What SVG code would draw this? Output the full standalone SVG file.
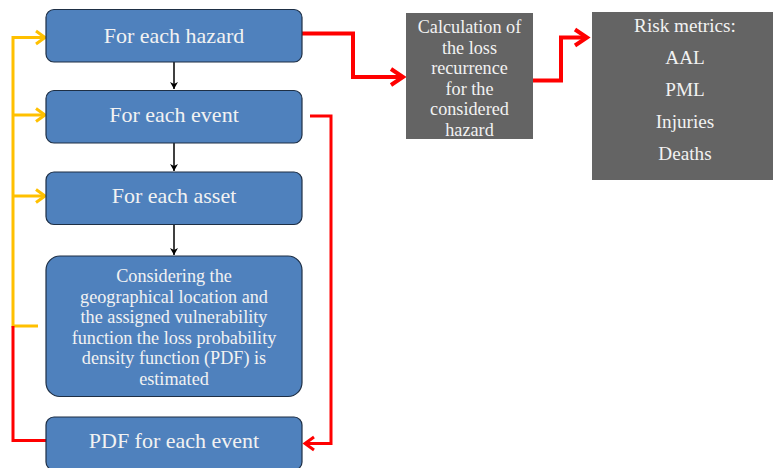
<svg xmlns="http://www.w3.org/2000/svg" width="773" height="468" viewBox="0 0 773 468">
<defs>
<style>
.box{fill:#4F81BD;stroke:#1E2F45;stroke-width:1.2}
.gbox{fill:#646464}
.t{font-family:"Liberation Serif","Times New Roman",serif;fill:#F2F2F2;text-anchor:middle}
.big{font-size:22px}
.small{font-size:18.2px}
.rm{font-size:19.2px}
.blk{stroke:#000;stroke-width:1.5;fill:none}
.yel{stroke:#FFC000;stroke-width:3;fill:none}
.red{stroke:#FF0000;stroke-width:3;fill:none}
.redw{stroke:#FF0000;stroke-width:4;fill:none}
</style>
<marker id="ab" markerWidth="8" markerHeight="8" refX="7" refY="4" orient="auto" markerUnits="userSpaceOnUse">
<path d="M0,0 L7,4 L0,8 L2,4 Z" fill="#000"/>
</marker>
</defs>
<g id="connectors">
<path class="blk" d="M174,62 V89" marker-end="url(#ab)"/>
<path class="blk" d="M174,143 V171" marker-end="url(#ab)"/>
<path class="blk" d="M174,225 V255" marker-end="url(#ab)"/>
<path class="yel" d="M38,326 H13 V37.5 H45"/>
<path class="yel" d="M36,31 L45,37.5 L36,44"/>
<path class="yel" d="M13,115 H45"/>
<path class="yel" d="M36,108.5 L45,115 L36,121.5"/>
<path class="yel" d="M13,196 H45"/>
<path class="yel" d="M36,189.5 L45,196 L36,202.5"/>
<path class="red" d="M13,326 V440.5 H46"/>
<path class="red" d="M310,116 H331 V443.5 H305"/>
<path class="red" d="M314,437 L305,443.5 L314,450"/>
<path class="redw" d="M302,33.5 H353 V77 H403"/>
<path class="redw" d="M391,69 L403,77 L391,85"/>
<path class="redw" d="M533,80.5 H561 V37.5 H587"/>
<path class="redw" d="M575,29.5 L587,37.5 L575,45.5"/>
</g>
<g id="hazard"><rect class="box" x="46" y="9.5" width="256" height="52.5" rx="8"/><text class="t big" x="174" y="43">For each hazard</text></g>
<g id="event"><rect class="box" x="46" y="90.5" width="256" height="52.5" rx="8"/><text class="t big" x="174" y="122">For each event</text></g>
<g id="asset"><rect class="box" x="46" y="172" width="256" height="52.5" rx="8"/><text class="t big" x="174" y="203">For each asset</text></g>
<g id="considering"><rect class="box" x="46" y="256" width="256" height="140.5" rx="14"/>
<text class="t small"><tspan x="174" y="282">Considering the</tspan><tspan x="174" y="302.6">geographical location and</tspan><tspan x="174" y="323.2">the assigned vulnerability</tspan><tspan x="174" y="343.8">function the loss probability</tspan><tspan x="174" y="364.4">density function (PDF) is</tspan><tspan x="174" y="385">estimated</tspan></text></g>
<g id="pdf"><rect class="box" x="46" y="417" width="256" height="53" rx="8"/><text class="t big" x="174" y="448">PDF for each event</text></g>
<g id="calc"><rect class="gbox" x="406" y="13" width="127" height="126"/>
<text class="t small"><tspan x="469.5" y="33">Calculation of</tspan><tspan x="469.5" y="53.6">the loss</tspan><tspan x="469.5" y="74.2">recurrence</tspan><tspan x="469.5" y="94.8">for the</tspan><tspan x="469.5" y="115.4">considered</tspan><tspan x="469.5" y="136">hazard</tspan></text></g>
<g id="metrics"><rect class="gbox" x="592" y="12" width="181" height="168"/>
<text class="t rm"><tspan x="685" y="32">Risk metrics:</tspan><tspan x="685" y="64">AAL</tspan><tspan x="685" y="96">PML</tspan><tspan x="685" y="128">Injuries</tspan><tspan x="685" y="160">Deaths</tspan></text></g>
</svg>
